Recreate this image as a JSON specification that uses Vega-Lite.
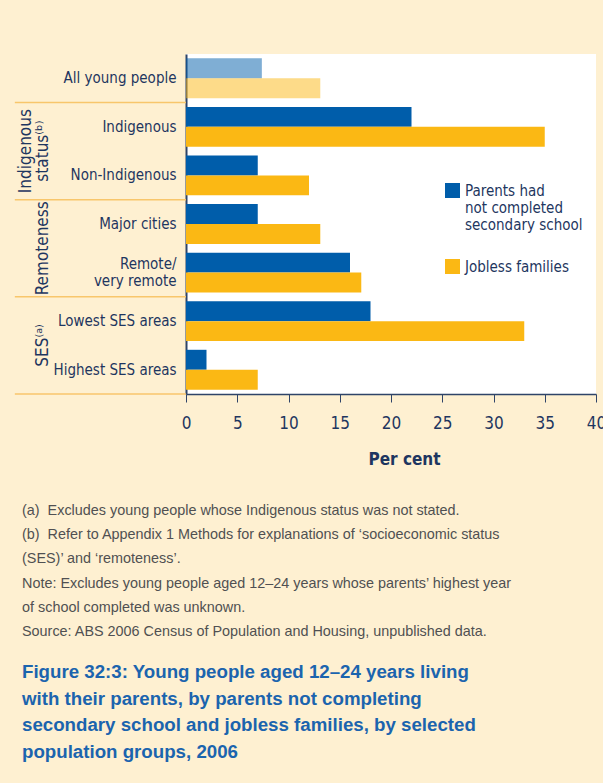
{
  "$schema": "https://vega.github.io/schema/vega-lite/v6.json",
  "width": 410,
  "height": 340,
  "autosize": {"type": "none"},
  "padding": {"left": 186, "top": 54, "right": 7, "bottom": 389},
  "background": "#fef0d1",
  "config": {
    "view": {"fill": "white", "stroke": null},
    "font": "DejaVu Sans Condensed, Liberation Sans, sans-serif"
  },
  "title": {
    "text": [
      "(a)\u00a0\u00a0Excludes young people whose Indigenous status was not stated.",
      "(b)\u00a0\u00a0Refer to Appendix 1 Methods for explanations of ‘socioeconomic status",
      "\u00a0\u00a0\u00a0\u00a0\u00a0\u00a0\u00a0(SES)’ and ‘remoteness’.",
      "Note: Excludes young people aged 12–24 years whose parents’ highest year",
      "of school completed was unknown.",
      "Source: ABS 2006 Census of Population and Housing, unpublished data."
    ],
    "subtitle": [
      "Figure 32:3: Young people aged 12–24 years living",
      "with their parents, by parents not completing",
      "secondary school and jobless families, by selected",
      "population groups, 2006"
    ],
    "orient": "bottom",
    "anchor": "start",
    "frame": "group",
    "dx": -164,
    "offset": 37,
    "font": "Liberation Sans",
    "fontSize": 14.4,
    "fontWeight": "normal",
    "color": "#505052",
    "lineHeight": 24.2,
    "subtitleFont": "Liberation Sans",
    "subtitleFontSize": 18.7,
    "subtitleFontWeight": "bold",
    "subtitleColor": "#1b64ae",
    "subtitleLineHeight": 26.5,
    "subtitlePadding": 24
  },
  "resolve": {"scale": {"y": "independent"}},
  "layer": [
    {
      "data": {
        "values": [
          {"category": "All young people", "series": "Parents had not completed secondary school", "value": 7.4},
          {"category": "All young people", "series": "Jobless families", "value": 13.1},
          {"category": "Indigenous", "series": "Parents had not completed secondary school", "value": 22},
          {"category": "Indigenous", "series": "Jobless families", "value": 35},
          {"category": "Non-Indigenous", "series": "Parents had not completed secondary school", "value": 7},
          {"category": "Non-Indigenous", "series": "Jobless families", "value": 12},
          {"category": "Major cities", "series": "Parents had not completed secondary school", "value": 7},
          {"category": "Major cities", "series": "Jobless families", "value": 13.1},
          {"category": "Remote/very remote", "series": "Parents had not completed secondary school", "value": 16},
          {"category": "Remote/very remote", "series": "Jobless families", "value": 17.1},
          {"category": "Lowest SES areas", "series": "Parents had not completed secondary school", "value": 18},
          {"category": "Lowest SES areas", "series": "Jobless families", "value": 33},
          {"category": "Highest SES areas", "series": "Parents had not completed secondary school", "value": 2},
          {"category": "Highest SES areas", "series": "Jobless families", "value": 7}
        ]
      },
      "mark": {"type": "bar"},
      "encoding": {
        "y": {
          "field": "category",
          "type": "nominal",
          "sort": null,
          "scale": {"paddingInner": 0.18, "paddingOuter": 0.09},
          "axis": {
            "title": null,
            "ticks": false,
            "labelFont": "DejaVu Sans Condensed, Liberation Sans, sans-serif",
            "labelFontSize": 15,
            "labelColor": "#1e3660",
            "labelPadding": 10,
            "labelLimit": 250,
            "labelLineHeight": 17,
            "labelOffset": {"condition": {"test": "datum.value == 'Remote/very remote'", "value": -8.5}, "value": 0},
            "labelExpr": "datum.value == 'Remote/very remote' ? ['Remote/', 'very remote'] : datum.value",
            "domainColor": "#2f4468",
            "domainWidth": 2
          }
        },
        "yOffset": {
          "field": "series",
          "type": "nominal",
          "sort": ["Parents had not completed secondary school", "Jobless families"],
          "scale": {"paddingInner": 0, "paddingOuter": 0}
        },
        "x": {
          "field": "value",
          "type": "quantitative",
          "scale": {"domain": [0, 40], "nice": false},
          "axis": {
            "title": "Per cent",
            "values": [0, 5, 10, 15, 20, 25, 30, 35, 40],
            "grid": false,
            "tickSize": 8,
            "tickColor": "#2f4468",
            "domainColor": "#2f4468",
            "domainWidth": 1.5,
            "labelFont": "DejaVu Sans Condensed, Liberation Sans, sans-serif",
            "labelFontSize": 17,
            "labelColor": "#1e3660",
            "labelPadding": 13,
            "labelFlush": false,
            "titleFont": "DejaVu Sans Condensed, Liberation Sans, sans-serif",
            "titleFontSize": 17,
            "titleFontWeight": "bold",
            "titleColor": "#1e3660",
            "titlePadding": 20,
            "titleX": 218
          }
        },
        "color": {
          "field": "series",
          "type": "nominal",
          "scale": {
            "domain": ["Parents had not completed secondary school", "Jobless families"],
            "range": ["#005daa", "#fbb814"]
          },
          "legend": {
            "orient": "none",
            "legendX": 259,
            "legendY": 129,
            "padding": 0,
            "title": null,
            "symbolType": "square",
            "symbolSize": 225,
            "symbolStrokeWidth": 0,
            "symbolOpacity": 1,
            "labelFont": "DejaVu Sans Condensed, Liberation Sans, sans-serif",
            "labelFontSize": 15,
            "labelColor": "#1e3660",
            "labelOffset": 5,
            "labelLimit": 300,
            "labelLineHeight": 17.5,
            "rowPadding": 26,
            "labelExpr": "datum.label == 'Parents had not completed secondary school' ? ['Parents had', 'not completed', 'secondary school'] : datum.label"
          }
        },
        "opacity": {
          "condition": {"test": "datum.category === 'All young people'", "value": 0.5},
          "value": 1
        }
      }
    },
    {
      "data": {"values": [{"sep": 1}, {"sep": 3}, {"sep": 5}, {"sep": 7}]},
      "mark": {"type": "rule", "color": "#f8c66b", "strokeWidth": 1.5},
      "encoding": {
        "y": {"field": "sep", "type": "quantitative", "scale": {"domain": [0, 7], "reverse": true, "nice": false, "zero": false}, "axis": null},
        "x": {"datum": -16.7, "type": "quantitative", "scale": {"domain": [0, 40], "nice": false}},
        "x2": {"datum": 0}
      }
    },
    {
      "data": {
        "values": [
          {"group": "status⁽ᵇ⁾|Indigenous", "pos": 2},
          {"group": "Remoteness", "pos": 4},
          {"group": "SES⁽ᵃ⁾", "pos": 6}
        ]
      },
      "mark": {
        "type": "text",
        "angle": 270,
        "align": "center",
        "baseline": "alphabetic",
        "lineBreak": "|",
        "lineHeight": -17,
        "font": "DejaVu Sans Condensed, Liberation Sans, sans-serif",
        "fontSize": 17,
        "color": "#1e3660"
      },
      "encoding": {
        "y": {"field": "pos", "type": "quantitative", "scale": {"domain": [0, 7], "reverse": true, "nice": false, "zero": false}, "axis": null},
        "x": {"datum": -13.46, "type": "quantitative", "scale": {"domain": [0, 40], "nice": false}},
        "text": {"field": "group", "type": "nominal"}
      }
    }
  ]
}
